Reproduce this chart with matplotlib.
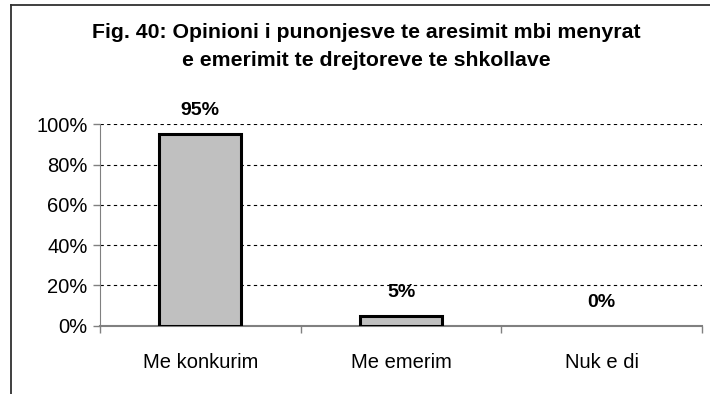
import matplotlib
matplotlib.use('Agg')
import matplotlib.pyplot as plt
from matplotlib.lines import Line2D
from matplotlib.ticker import PercentFormatter

# survey answers and share of respondents
categories = ['Me konkurim', 'Me emerim', 'Nuk e di']
shares = [0.95, 0.05, 0.0]
value_labels = ['95%', '5%', '0%']
title_lines = ['Fig. 40: Opinioni i punonjesve te aresimit mbi menyrat',
               'e emerimit te drejtoreve te shkollave']

plt.rcParams['font.family'] = ['Liberation Sans', 'DejaVu Sans']

W, H = 710, 394
fig = plt.figure(figsize=(W / 100, H / 100), dpi=100)
ax = fig.add_axes([100 / W, 1 - 325.7 / H, 602 / W, 201.4 / H])

x = range(len(categories))
bars = ax.bar(x, shares, width=0.41, color='#c0c0c0', edgecolor='black', linewidth=2.2, zorder=3)
# empty bars leave no outline on the axis
for b, v in zip(bars, shares):
    if v == 0:
        b.set_visible(False)

for xi, v, lab in zip(x, shares, value_labels):
    ax.annotate(lab, (xi, v), xytext=(0, 17), textcoords='offset points',
                ha='center', va='center', fontsize=14, fontweight='bold')

ax.set_xlim(-0.5, len(categories) - 0.5)
ax.set_ylim(0, 1)
ax.set_yticks([0, 0.2, 0.4, 0.6, 0.8, 1.0])
ax.yaxis.set_major_formatter(PercentFormatter(1.0, decimals=0))
ax.set_xticks(x)
ax.set_xticklabels(categories)
ax.set_xticks([-0.5, 0.5, 1.5, 2.5], minor=True)
ax.tick_params(axis='x', which='major', length=0, pad=20, labelsize=14.5)
ax.tick_params(axis='x', which='minor', length=5, width=1, color='#808080')
ax.tick_params(axis='y', length=5, width=1, color='#808080', labelsize=14.5, pad=4)

for y in [0.2, 0.4, 0.6, 0.8, 1.0]:
    ax.axhline(y, color='black', linewidth=0.8, linestyle=(0, (3, 3)), zorder=1)

for s in ['top', 'right']:
    ax.spines[s].set_visible(False)
ax.spines['left'].set_color('#808080')
ax.spines['bottom'].set_color('#808080')
ax.spines['bottom'].set_linewidth(1.5)

fig.text(366 / W, 1 - 33 / H, title_lines[0], ha='center', va='center',
         fontsize=15.3, fontweight='bold')
fig.text(366 / W, 1 - 60 / H, title_lines[1], ha='center', va='center',
         fontsize=15.3, fontweight='bold')

# chart area border (left and top edges)
fig.add_artist(Line2D([10.5 / W, 10.5 / W], [0, 1 - 4.5 / H], color='#303030', linewidth=1.3))
fig.add_artist(Line2D([10.5 / W, 1], [1 - 4.5 / H, 1 - 4.5 / H], color='#303030', linewidth=1.3))

fig.savefig('out.png', dpi=100)
